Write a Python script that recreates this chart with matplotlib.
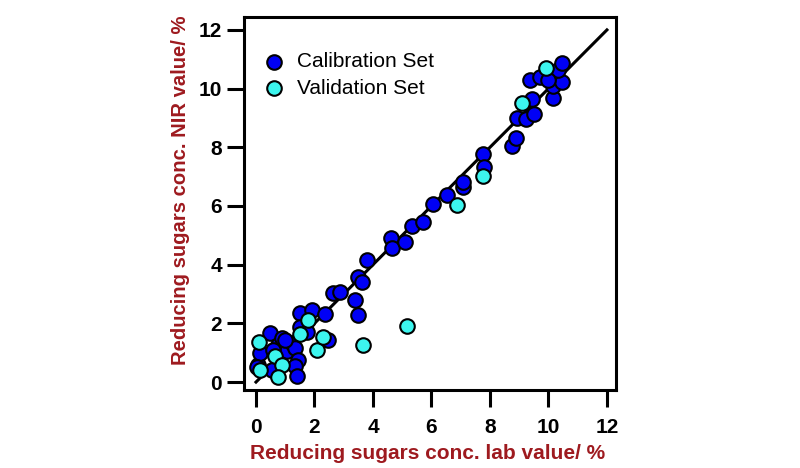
import numpy as np
import matplotlib
matplotlib.use("Agg")
import matplotlib.pyplot as plt

plt.rcParams["font.family"] = ["Liberation Sans", "DejaVu Sans"]

# valores (lab vs NIR, %)
cal_lab = [0.08, 0.14, 0.48, 0.54, 0.76, 0.88, 1.05, 1.22, 1.33, 1.45, 1.33, 1.39, 0.99, 0.59, 0.02,
           1.50, 1.50, 1.73, 1.90, 2.36, 2.47, 2.64, 2.87, 3.38, 3.50, 3.50, 3.61, 3.78,
           4.60, 4.64, 5.09, 5.32, 5.72, 6.06, 6.53, 7.09, 7.09, 7.77, 7.80,
           8.75, 8.88, 8.91, 9.22, 9.50, 9.45, 10.15, 10.15, 10.45, 9.37, 9.71, 10.32, 10.45, 10.0]
cal_nir = [0.58, 0.98, 1.66, 0.41, 1.26, 1.49, 1.06, 1.32, 1.15, 0.75, 0.55, 0.20, 1.43, 1.09, 0.52,
           2.34, 1.89, 1.72, 2.45, 2.32, 1.43, 3.02, 3.08, 2.80, 2.28, 3.59, 3.40, 4.16,
           4.90, 4.58, 4.78, 5.33, 5.45, 6.08, 6.38, 6.64, 6.83, 7.76, 7.33,
           8.05, 8.30, 8.99, 8.95, 9.15, 9.65, 9.67, 10.10, 10.24, 10.28, 10.41, 10.64, 10.86, 10.30]

val_lab = [0.10, 0.14, 0.65, 0.88, 0.76, 1.50, 1.77, 2.10, 2.30, 3.67, 5.18, 6.88, 7.76, 9.08, 9.91]
val_nir = [1.37, 0.40, 0.90, 0.58, 0.18, 1.64, 2.11, 1.11, 1.54, 1.28, 1.90, 6.02, 7.01, 9.50, 10.69]

linea = [0, 12]
ticks = [0, 2, 4, 6, 8, 10, 12]

ROJO = "#9E1A1F"

fig = plt.figure(figsize=(8, 4.68), dpi=100)
ax = fig.add_axes([244 / 800, 78 / 468, 372 / 800, 373 / 468])

ax.plot(linea, linea, color="black", lw=2.2, zorder=1)
ax.scatter(cal_lab, cal_nir, s=110, c="#0000F5", edgecolors="black", linewidths=1.5,
           zorder=2, label="Calibration Set")
ax.scatter(val_lab, val_nir, s=110, c="#3CF5EE", edgecolors="black", linewidths=1.5,
           zorder=3, label="Validation Set")

ax.set_xlim(-0.41, 12.31)
ax.set_ylim(-0.27, 12.44)
ax.set_xticks(ticks)
ax.set_yticks(ticks)
for s in ax.spines.values():
    s.set_linewidth(2.2)
ax.tick_params(direction="out", length=12, width=2.2, labelsize=15)
ax.tick_params(axis="x", pad=8)
ax.tick_params(axis="y", pad=4)
for lab in ax.get_xticklabels() + ax.get_yticklabels():
    lab.set_fontweight("bold")

ax.set_xlabel("Reducing sugars conc. lab value/ %", fontsize=15, fontweight="bold", color=ROJO)
ax.set_ylabel("Reducing sugars conc. NIR value/ %", fontsize=14.6, fontweight="bold", color=ROJO)
ax.xaxis.set_label_coords(0.493, -0.145)
ax.yaxis.set_label_coords(-0.145, 0.536)

ax.legend(loc="upper left", bbox_to_anchor=(0.0, 0.95), frameon=False, fontsize=15,
          handletextpad=0.45, labelspacing=0.35, borderpad=0.3, handlelength=1.3)

fig.savefig("out.png", dpi=100)
